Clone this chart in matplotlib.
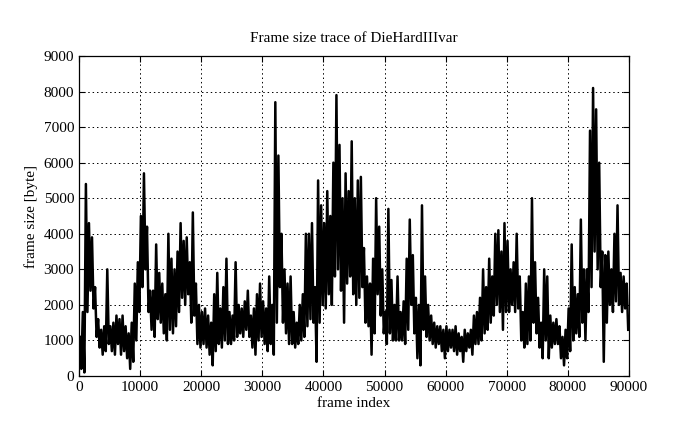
import numpy as np
import matplotlib
matplotlib.use("Agg")
import matplotlib.pyplot as plt

# per 500-frame bin: peak and trough of the frame size trace (bytes)
bin_size = 500
peaks = [
    1100, 1800, 5400, 4300, 3900, 2500, 1600, 1300, 1400, 3000,
    1400, 1500, 1700, 1600, 1700, 1400, 1200, 1500, 2600, 3200,
    4500, 5700, 4200, 2400, 2400, 3700, 2900, 2600, 2300, 4000,
    3300, 3000, 3500, 4300, 3800, 3900, 3200, 4600, 2600, 2000,
    1800, 1900, 1700, 1500, 2300, 2900, 1900, 2500, 3300, 1800,
    1700, 3200, 2000, 1900, 2100, 2400, 1700, 1900, 2300, 2600,
    2100, 1900, 2800, 2000, 7700, 6200, 4000, 3000, 2600, 2800,
    1800, 1500, 2000, 2300, 4000, 4000, 4300, 2500, 5500, 4800,
    4300, 5200, 4500, 6000, 7900, 6500, 5000, 5700, 5200, 6600,
    5000, 5500, 5600, 3600, 2800, 2600, 3300, 5000, 4200, 3000,
    1800, 4700, 2700, 2000, 2800, 1800, 2100, 3300, 4400, 3400,
    2200, 2000, 4800, 2800, 2000, 1700, 1500, 1400, 1400, 1300,
    1400, 1300, 1300, 1400, 1200, 1100, 1300, 1200, 1300, 1700,
    1800, 2200, 3000, 2500, 3300, 2800, 4000, 4100, 3500, 4300,
    3800, 3000, 3200, 4000, 2800, 1800, 2600, 2800, 5000, 3200,
    2200, 1500, 3000, 2800, 1700, 1500, 1600, 1400, 1100, 1300,
    1900, 3700, 2500, 2300, 4400, 3000, 3000, 6900, 8100, 7500,
    6000, 3500, 3400, 3500, 3000, 4000, 4800, 2900, 2800, 2600,
]
troughs = [
    200, 100, 1800, 2400, 1900, 1100, 800, 600, 700, 900,
    700, 600, 900, 600, 700, 500, 200, 400, 1000, 1800,
    2500, 3000, 1800, 1300, 1100, 1600, 1500, 1200, 1000, 1300,
    1200, 1400, 1800, 2200, 2000, 2300, 1500, 1700, 900, 800,
    900, 800, 600, 300, 700, 900, 800, 1000, 900, 900,
    1000, 1100, 1200, 1100, 1300, 1100, 800, 600, 1000, 1100,
    900, 700, 900, 600, 1500, 2500, 1500, 1200, 900, 900,
    800, 900, 1000, 1100, 1400, 1600, 1500, 400, 1500, 2000,
    1900, 2300, 2000, 2800, 3000, 2400, 1500, 2600, 2800, 2300,
    2000, 2200, 2500, 1500, 1400, 600, 1200, 2300, 1700, 1200,
    900, 1200, 1000, 1000, 1000, 1000, 900, 1300, 2000, 1200,
    500, 300, 1300, 1100, 1000, 900, 800, 900, 700, 500,
    700, 800, 700, 600, 700, 400, 700, 800, 600, 900,
    900, 1000, 1200, 1300, 1500, 1700, 2000, 1800, 1300, 1800,
    1800, 2000, 1800, 1900, 1000, 800, 900, 1000, 1500, 1200,
    800, 500, 1000, 500, 800, 900, 900, 500, 300, 500,
    700, 1000, 1200, 1100, 1500, 1000, 1800, 2500, 3500, 3000,
    2500, 400, 1500, 2000, 1800, 2100, 2000, 1800, 1900, 1300,
]

# zigzag peak/trough inside each bin
starts = np.arange(len(peaks)) * bin_size
frames = np.column_stack([starts + bin_size * 0.25, starts + bin_size * 0.75]).ravel()
sizes = np.column_stack([peaks, troughs]).ravel()

plt.rcParams["font.family"] = ["Liberation Serif", "DejaVu Serif"]
plt.rcParams["font.size"] = 11

fig = plt.figure(figsize=(6.95, 4.29), dpi=100)
ax = fig.add_axes([0.1137, 0.1235, 0.7913, 0.746])
ax.plot(frames, sizes, color="black", lw=1.8)

ax.set_xlim(0, 90000)
ax.set_ylim(0, 9000)
ax.set_xticks(np.arange(0, 90001, 10000))
ax.set_yticks(np.arange(0, 9001, 1000))
ax.tick_params(direction="in", top=True, right=True, length=4, width=0.8)
ax.grid(True, color="black", linestyle=(0, (1.5, 3)), linewidth=0.7)
for s in ax.spines.values():
    s.set_linewidth(0.9)

ax.set_title("Frame size trace of DieHardIIIvar", fontsize=11, pad=10)
ax.set_xlabel("frame index", labelpad=2)
ax.set_ylabel("frame size [byte]", labelpad=4)

fig.savefig("out.png", dpi=100)
